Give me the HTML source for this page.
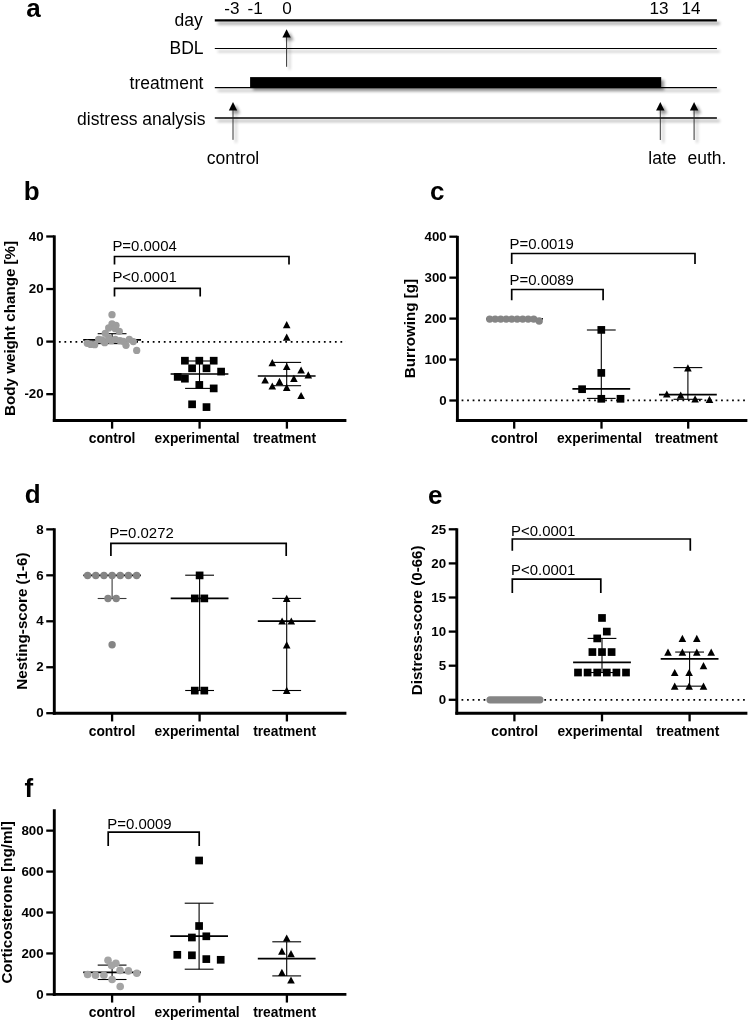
<!DOCTYPE html>
<html><head><meta charset="utf-8"><title>Figure</title>
<style>html,body{margin:0;padding:0;background:#fff;width:750px;height:1022px;overflow:hidden;}svg{display:block;opacity:0.999;}text{font-family:"Liberation Sans",sans-serif;}</style>
</head><body>
<svg width="750" height="1022" viewBox="0 0 750 1022">
<defs><filter id="sh" x="-5%" y="-50%" width="110%" height="250%"><feGaussianBlur in="SourceAlpha" stdDeviation="1.7"/><feOffset dx="2.8" dy="3" result="o"/><feComponentTransfer><feFuncA type="linear" slope="0.42"/></feComponentTransfer><feMerge><feMergeNode/><feMergeNode in="SourceGraphic"/></feMerge></filter></defs>
<rect width="750" height="1022" fill="#fff"/>
<text x="26.30" y="17.20" font-size="26" font-weight="bold">a</text>
<text x="23.70" y="200.00" font-size="26" font-weight="bold">b</text>
<text x="430.00" y="200.00" font-size="26" font-weight="bold">c</text>
<text x="24.80" y="503.30" font-size="26" font-weight="bold">d</text>
<text x="427.90" y="503.60" font-size="26" font-weight="bold">e</text>
<text x="24.50" y="796.60" font-size="26" font-weight="bold">f</text>
<text x="202.80" y="25.50" font-size="17.5" text-anchor="end">day</text>
<text x="203.50" y="53.70" font-size="17.5" text-anchor="end">BDL</text>
<text x="203.50" y="89.10" font-size="17.5" text-anchor="end">treatment</text>
<text x="205.50" y="124.60" font-size="17.5" text-anchor="end">distress analysis</text>
<g filter="url(#sh)">
<line x1="214.80" y1="20.40" x2="716.90" y2="20.40" stroke="#000" stroke-width="2.3"/>
<line x1="214.80" y1="48.50" x2="716.90" y2="48.50" stroke="#000" stroke-width="1.1"/>
<line x1="214.80" y1="87.60" x2="716.90" y2="87.60" stroke="#000" stroke-width="1.1"/>
<line x1="214.80" y1="118.10" x2="716.90" y2="118.10" stroke="#000" stroke-width="1.5"/>
<rect x="250.1" y="77.1" width="411.1" height="11.0" fill="#000"/>
<line x1="286.60" y1="34.20" x2="286.60" y2="66.80" stroke="#222" stroke-width="0.9"/>
<path d="M282.40 37.60L290.80 37.60L286.60 29.20Z" fill="#000"/>
<line x1="233.00" y1="107.00" x2="233.00" y2="139.80" stroke="#222" stroke-width="0.9"/>
<path d="M228.80 110.40L237.20 110.40L233.00 102.00Z" fill="#000"/>
<line x1="660.30" y1="107.00" x2="660.30" y2="140.00" stroke="#222" stroke-width="0.9"/>
<path d="M656.10 110.40L664.50 110.40L660.30 102.00Z" fill="#000"/>
<line x1="694.10" y1="107.00" x2="694.10" y2="140.00" stroke="#222" stroke-width="0.9"/>
<path d="M689.90 110.40L698.30 110.40L694.10 102.00Z" fill="#000"/>
</g>
<text x="231.90" y="13.80" font-size="17.1" text-anchor="middle">-3</text>
<text x="255.20" y="13.80" font-size="17.1" text-anchor="middle">-1</text>
<text x="286.90" y="13.80" font-size="17.1" text-anchor="middle">0</text>
<text x="659.00" y="13.80" font-size="17.1" text-anchor="middle">13</text>
<text x="691.00" y="13.80" font-size="17.1" text-anchor="middle">14</text>
<text x="233.00" y="163.70" font-size="17.5" text-anchor="middle">control</text>
<text x="662.40" y="163.70" font-size="17.5" text-anchor="middle">late</text>
<text x="706.90" y="163.70" font-size="17.5" text-anchor="middle">euth.</text>
<line x1="54.30" y1="235.35" x2="54.30" y2="421.95" stroke="#000" stroke-width="2.9"/>
<line x1="52.85" y1="420.50" x2="346.40" y2="420.50" stroke="#000" stroke-width="2.9"/>
<line x1="46.25" y1="236.48" x2="54.30" y2="236.48" stroke="#000" stroke-width="2.3"/>
<text x="43.65" y="240.68" font-size="13.3" font-weight="bold" text-anchor="end">40</text>
<line x1="46.25" y1="289.04" x2="54.30" y2="289.04" stroke="#000" stroke-width="2.3"/>
<text x="43.65" y="293.24" font-size="13.3" font-weight="bold" text-anchor="end">20</text>
<line x1="46.25" y1="341.60" x2="54.30" y2="341.60" stroke="#000" stroke-width="2.3"/>
<text x="43.65" y="345.80" font-size="13.3" font-weight="bold" text-anchor="end">0</text>
<line x1="46.25" y1="394.16" x2="54.30" y2="394.16" stroke="#000" stroke-width="2.3"/>
<text x="43.65" y="398.36" font-size="13.3" font-weight="bold" text-anchor="end">-20</text>
<line x1="112.10" y1="420.50" x2="112.10" y2="428.65" stroke="#000" stroke-width="2.3"/>
<line x1="199.60" y1="420.50" x2="199.60" y2="428.65" stroke="#000" stroke-width="2.3"/>
<line x1="286.90" y1="420.50" x2="286.90" y2="428.65" stroke="#000" stroke-width="2.3"/>
<text x="112.10" y="443.40" font-size="13.8" font-weight="bold" text-anchor="middle">control</text>
<text x="197.10" y="443.40" font-size="13.8" font-weight="bold" text-anchor="middle">experimental</text>
<text x="284.60" y="443.40" font-size="13.8" font-weight="bold" text-anchor="middle">treatment</text>
<text x="15.10" y="328.40" font-size="15.15" font-weight="bold" text-anchor="middle" transform="rotate(-90 15.10 328.40)">Body weight change [%]</text>
<line x1="58.92" y1="341.80" x2="346.00" y2="341.80" stroke="#000" stroke-width="1.75" stroke-dasharray="1.75 3.7699999999999996"/>
<path d="M114.50 264.50V256.50H289.00V264.50" fill="none" stroke="#000" stroke-width="1.7"/>
<text x="112.40" y="250.60" font-size="14.95">P=0.0004</text>
<path d="M114.50 296.50V288.40H200.20V296.50" fill="none" stroke="#000" stroke-width="1.7"/>
<text x="112.40" y="282.00" font-size="14.95">P&lt;0.0001</text>
<line x1="112.10" y1="333.70" x2="112.10" y2="343.60" stroke="#000" stroke-width="1.1"/>
<line x1="97.70" y1="333.70" x2="126.50" y2="333.70" stroke="#000" stroke-width="1.1"/>
<line x1="97.70" y1="343.60" x2="126.50" y2="343.60" stroke="#000" stroke-width="1.1"/>
<line x1="83.20" y1="339.90" x2="141.00" y2="339.90" stroke="#000" stroke-width="1.7"/>
<circle cx="112.00" cy="314.70" r="3.65" fill="#9d9d9d"/>
<circle cx="112.00" cy="324.00" r="3.65" fill="#9d9d9d"/>
<circle cx="116.00" cy="325.30" r="3.65" fill="#9d9d9d"/>
<circle cx="108.70" cy="328.00" r="3.65" fill="#9d9d9d"/>
<circle cx="115.30" cy="328.70" r="3.65" fill="#9d9d9d"/>
<circle cx="119.30" cy="331.30" r="3.65" fill="#9d9d9d"/>
<circle cx="105.30" cy="333.30" r="3.65" fill="#9d9d9d"/>
<circle cx="98.70" cy="339.30" r="3.65" fill="#9d9d9d"/>
<circle cx="87.30" cy="343.30" r="3.65" fill="#9d9d9d"/>
<circle cx="90.70" cy="344.40" r="3.65" fill="#9d9d9d"/>
<circle cx="94.70" cy="344.70" r="3.65" fill="#9d9d9d"/>
<circle cx="104.70" cy="342.70" r="3.65" fill="#9d9d9d"/>
<circle cx="102.00" cy="340.00" r="3.65" fill="#9d9d9d"/>
<circle cx="111.30" cy="340.70" r="3.65" fill="#9d9d9d"/>
<circle cx="108.70" cy="338.00" r="3.65" fill="#9d9d9d"/>
<circle cx="115.30" cy="339.30" r="3.65" fill="#9d9d9d"/>
<circle cx="120.00" cy="340.70" r="3.65" fill="#9d9d9d"/>
<circle cx="123.30" cy="341.30" r="3.65" fill="#9d9d9d"/>
<circle cx="126.00" cy="345.30" r="3.65" fill="#9d9d9d"/>
<circle cx="129.30" cy="339.30" r="3.65" fill="#9d9d9d"/>
<circle cx="133.30" cy="341.60" r="3.65" fill="#9d9d9d"/>
<circle cx="136.70" cy="350.40" r="3.65" fill="#9d9d9d"/>
<line x1="199.50" y1="361.00" x2="199.50" y2="388.40" stroke="#000" stroke-width="1.1"/>
<line x1="185.10" y1="361.00" x2="213.90" y2="361.00" stroke="#000" stroke-width="1.1"/>
<line x1="185.10" y1="388.40" x2="213.90" y2="388.40" stroke="#000" stroke-width="1.1"/>
<line x1="170.60" y1="374.00" x2="228.40" y2="374.00" stroke="#000" stroke-width="1.7"/>
<rect x="181.05" y="356.85" width="7.7" height="7.7" fill="#000"/>
<rect x="195.45" y="356.85" width="7.7" height="7.7" fill="#000"/>
<rect x="209.85" y="356.85" width="7.7" height="7.7" fill="#000"/>
<rect x="188.25" y="364.45" width="7.7" height="7.7" fill="#000"/>
<rect x="202.65" y="364.45" width="7.7" height="7.7" fill="#000"/>
<rect x="217.25" y="367.75" width="7.7" height="7.7" fill="#000"/>
<rect x="173.85" y="373.05" width="7.7" height="7.7" fill="#000"/>
<rect x="181.05" y="374.85" width="7.7" height="7.7" fill="#000"/>
<rect x="195.45" y="381.05" width="7.7" height="7.7" fill="#000"/>
<rect x="209.85" y="384.55" width="7.7" height="7.7" fill="#000"/>
<rect x="188.25" y="400.45" width="7.7" height="7.7" fill="#000"/>
<rect x="202.65" y="403.25" width="7.7" height="7.7" fill="#000"/>
<line x1="286.70" y1="362.40" x2="286.70" y2="385.70" stroke="#000" stroke-width="1.1"/>
<line x1="272.30" y1="362.40" x2="301.10" y2="362.40" stroke="#000" stroke-width="1.1"/>
<line x1="272.30" y1="385.70" x2="301.10" y2="385.70" stroke="#000" stroke-width="1.1"/>
<line x1="257.80" y1="376.00" x2="315.60" y2="376.00" stroke="#000" stroke-width="1.7"/>
<path d="M282.90 328.30L290.50 328.30L286.70 321.10Z" fill="#000"/>
<path d="M282.90 340.80L290.50 340.80L286.70 333.60Z" fill="#000"/>
<path d="M268.50 366.30L276.10 366.30L272.30 359.10Z" fill="#000"/>
<path d="M282.90 370.10L290.50 370.10L286.70 362.90Z" fill="#000"/>
<path d="M297.30 373.60L304.90 373.60L301.10 366.40Z" fill="#000"/>
<path d="M304.50 378.40L312.10 378.40L308.30 371.20Z" fill="#000"/>
<path d="M290.10 381.90L297.70 381.90L293.90 374.70Z" fill="#000"/>
<path d="M261.30 383.60L268.90 383.60L265.10 376.40Z" fill="#000"/>
<path d="M275.70 384.90L283.30 384.90L279.50 377.70Z" fill="#000"/>
<path d="M268.50 389.60L276.10 389.60L272.30 382.40Z" fill="#000"/>
<path d="M282.90 390.90L290.50 390.90L286.70 383.70Z" fill="#000"/>
<path d="M297.30 399.10L304.90 399.10L301.10 391.90Z" fill="#000"/>
<line x1="457.40" y1="235.85" x2="457.40" y2="421.95" stroke="#000" stroke-width="2.9"/>
<line x1="455.95" y1="420.50" x2="747.40" y2="420.50" stroke="#000" stroke-width="2.9"/>
<line x1="449.35" y1="236.70" x2="457.40" y2="236.70" stroke="#000" stroke-width="2.3"/>
<text x="446.75" y="240.90" font-size="13.3" font-weight="bold" text-anchor="end">400</text>
<line x1="449.35" y1="277.65" x2="457.40" y2="277.65" stroke="#000" stroke-width="2.3"/>
<text x="446.75" y="281.85" font-size="13.3" font-weight="bold" text-anchor="end">300</text>
<line x1="449.35" y1="318.60" x2="457.40" y2="318.60" stroke="#000" stroke-width="2.3"/>
<text x="446.75" y="322.80" font-size="13.3" font-weight="bold" text-anchor="end">200</text>
<line x1="449.35" y1="359.55" x2="457.40" y2="359.55" stroke="#000" stroke-width="2.3"/>
<text x="446.75" y="363.75" font-size="13.3" font-weight="bold" text-anchor="end">100</text>
<line x1="449.35" y1="400.50" x2="457.40" y2="400.50" stroke="#000" stroke-width="2.3"/>
<text x="446.75" y="404.70" font-size="13.3" font-weight="bold" text-anchor="end">0</text>
<line x1="514.20" y1="420.50" x2="514.20" y2="428.65" stroke="#000" stroke-width="2.3"/>
<line x1="601.50" y1="420.50" x2="601.50" y2="428.65" stroke="#000" stroke-width="2.3"/>
<line x1="688.20" y1="420.50" x2="688.20" y2="428.65" stroke="#000" stroke-width="2.3"/>
<text x="514.50" y="443.40" font-size="13.8" font-weight="bold" text-anchor="middle">control</text>
<text x="599.50" y="443.40" font-size="13.8" font-weight="bold" text-anchor="middle">experimental</text>
<text x="686.40" y="443.40" font-size="13.8" font-weight="bold" text-anchor="middle">treatment</text>
<text x="415.00" y="328.50" font-size="15.15" font-weight="bold" text-anchor="middle" transform="rotate(-90 415.00 328.50)">Burrowing [g]</text>
<line x1="461.62" y1="400.30" x2="746.00" y2="400.30" stroke="#000" stroke-width="1.75" stroke-dasharray="1.75 3.7699999999999996"/>
<path d="M511.70 264.10V253.50H695.00V264.10" fill="none" stroke="#000" stroke-width="1.7"/>
<text x="509.50" y="249.00" font-size="14.95">P=0.0019</text>
<path d="M511.70 300.20V289.50H603.10V300.20" fill="none" stroke="#000" stroke-width="1.7"/>
<text x="509.50" y="285.00" font-size="14.95">P=0.0089</text>
<line x1="486.00" y1="318.80" x2="543.00" y2="318.80" stroke="#000" stroke-width="1.7"/>
<circle cx="489.70" cy="319.10" r="3.7" fill="#858585"/>
<circle cx="495.20" cy="319.10" r="3.7" fill="#858585"/>
<circle cx="500.70" cy="319.10" r="3.7" fill="#858585"/>
<circle cx="506.20" cy="319.10" r="3.7" fill="#858585"/>
<circle cx="511.70" cy="319.10" r="3.7" fill="#858585"/>
<circle cx="517.20" cy="319.10" r="3.7" fill="#858585"/>
<circle cx="522.70" cy="319.10" r="3.7" fill="#858585"/>
<circle cx="528.20" cy="319.10" r="3.7" fill="#858585"/>
<circle cx="533.70" cy="319.10" r="3.7" fill="#858585"/>
<circle cx="539.20" cy="321.00" r="3.7" fill="#858585"/>
<line x1="601.30" y1="330.00" x2="601.30" y2="398.40" stroke="#000" stroke-width="1.1"/>
<line x1="586.90" y1="330.00" x2="615.70" y2="330.00" stroke="#000" stroke-width="1.1"/>
<line x1="586.90" y1="398.40" x2="615.70" y2="398.40" stroke="#000" stroke-width="1.1"/>
<line x1="572.40" y1="388.80" x2="630.20" y2="388.80" stroke="#000" stroke-width="1.7"/>
<rect x="597.45" y="326.05" width="7.7" height="7.7" fill="#000"/>
<rect x="597.45" y="369.05" width="7.7" height="7.7" fill="#000"/>
<rect x="578.25" y="385.35" width="7.7" height="7.7" fill="#000"/>
<rect x="597.45" y="394.95" width="7.7" height="7.7" fill="#000"/>
<rect x="616.65" y="394.95" width="7.7" height="7.7" fill="#000"/>
<line x1="687.90" y1="367.60" x2="687.90" y2="399.30" stroke="#000" stroke-width="1.1"/>
<line x1="673.50" y1="367.60" x2="702.30" y2="367.60" stroke="#000" stroke-width="1.1"/>
<line x1="673.50" y1="399.30" x2="702.30" y2="399.30" stroke="#000" stroke-width="1.1"/>
<line x1="659.00" y1="394.60" x2="716.80" y2="394.60" stroke="#000" stroke-width="1.7"/>
<path d="M684.10 371.40L691.70 371.40L687.90 364.20Z" fill="#000"/>
<path d="M663.00 397.60L670.60 397.60L666.80 390.40Z" fill="#000"/>
<path d="M676.90 398.80L684.50 398.80L680.70 391.60Z" fill="#000"/>
<path d="M691.30 402.40L698.90 402.40L695.10 395.20Z" fill="#000"/>
<path d="M705.70 402.90L713.30 402.90L709.50 395.70Z" fill="#000"/>
<line x1="54.30" y1="528.25" x2="54.30" y2="714.75" stroke="#000" stroke-width="2.9"/>
<line x1="52.85" y1="713.30" x2="346.40" y2="713.30" stroke="#000" stroke-width="2.9"/>
<line x1="46.25" y1="529.36" x2="54.30" y2="529.36" stroke="#000" stroke-width="2.3"/>
<text x="43.65" y="533.56" font-size="13.3" font-weight="bold" text-anchor="end">8</text>
<line x1="46.25" y1="575.32" x2="54.30" y2="575.32" stroke="#000" stroke-width="2.3"/>
<text x="43.65" y="579.52" font-size="13.3" font-weight="bold" text-anchor="end">6</text>
<line x1="46.25" y1="621.28" x2="54.30" y2="621.28" stroke="#000" stroke-width="2.3"/>
<text x="43.65" y="625.48" font-size="13.3" font-weight="bold" text-anchor="end">4</text>
<line x1="46.25" y1="667.24" x2="54.30" y2="667.24" stroke="#000" stroke-width="2.3"/>
<text x="43.65" y="671.44" font-size="13.3" font-weight="bold" text-anchor="end">2</text>
<line x1="46.25" y1="713.20" x2="54.30" y2="713.20" stroke="#000" stroke-width="2.3"/>
<text x="43.65" y="717.40" font-size="13.3" font-weight="bold" text-anchor="end">0</text>
<line x1="112.10" y1="713.30" x2="112.10" y2="721.45" stroke="#000" stroke-width="2.3"/>
<line x1="199.60" y1="713.30" x2="199.60" y2="721.45" stroke="#000" stroke-width="2.3"/>
<line x1="286.90" y1="713.30" x2="286.90" y2="721.45" stroke="#000" stroke-width="2.3"/>
<text x="112.10" y="736.20" font-size="13.8" font-weight="bold" text-anchor="middle">control</text>
<text x="197.10" y="736.20" font-size="13.8" font-weight="bold" text-anchor="middle">experimental</text>
<text x="284.60" y="736.20" font-size="13.8" font-weight="bold" text-anchor="middle">treatment</text>
<text x="26.80" y="621.10" font-size="15.15" font-weight="bold" text-anchor="middle" transform="rotate(-90 26.80 621.10)">Nesting-score (1-6)</text>
<path d="M110.90 556.00V543.30H286.20V556.00" fill="none" stroke="#000" stroke-width="1.7"/>
<text x="109.40" y="538.30" font-size="14.95">P=0.0272</text>
<line x1="112.10" y1="575.30" x2="112.10" y2="598.50" stroke="#3a3a3a" stroke-width="1.1"/>
<line x1="97.70" y1="598.50" x2="126.50" y2="598.50" stroke="#3a3a3a" stroke-width="1.1"/>
<line x1="83.30" y1="575.30" x2="140.90" y2="575.30" stroke="#000" stroke-width="1.7"/>
<circle cx="87.60" cy="575.50" r="3.7" fill="#858585"/>
<circle cx="95.77" cy="575.50" r="3.7" fill="#858585"/>
<circle cx="103.94" cy="575.50" r="3.7" fill="#858585"/>
<circle cx="112.11" cy="575.50" r="3.7" fill="#858585"/>
<circle cx="120.28" cy="575.50" r="3.7" fill="#858585"/>
<circle cx="128.45" cy="575.50" r="3.7" fill="#858585"/>
<circle cx="136.62" cy="575.50" r="3.7" fill="#858585"/>
<circle cx="108.00" cy="598.50" r="3.7" fill="#858585"/>
<circle cx="116.20" cy="598.50" r="3.7" fill="#858585"/>
<circle cx="112.10" cy="644.80" r="3.7" fill="#858585"/>
<line x1="199.60" y1="575.20" x2="199.60" y2="690.50" stroke="#000" stroke-width="1.1"/>
<line x1="185.20" y1="575.20" x2="214.00" y2="575.20" stroke="#000" stroke-width="1.1"/>
<line x1="185.20" y1="690.50" x2="214.00" y2="690.50" stroke="#000" stroke-width="1.1"/>
<line x1="170.70" y1="598.40" x2="228.50" y2="598.40" stroke="#000" stroke-width="1.7"/>
<rect x="195.75" y="571.55" width="7.7" height="7.7" fill="#000"/>
<rect x="190.95" y="594.55" width="7.7" height="7.7" fill="#000"/>
<rect x="200.45" y="594.55" width="7.7" height="7.7" fill="#000"/>
<rect x="190.95" y="686.75" width="7.7" height="7.7" fill="#000"/>
<rect x="200.45" y="686.75" width="7.7" height="7.7" fill="#000"/>
<line x1="286.70" y1="598.40" x2="286.70" y2="690.50" stroke="#000" stroke-width="1.1"/>
<line x1="272.30" y1="598.40" x2="301.10" y2="598.40" stroke="#000" stroke-width="1.1"/>
<line x1="272.30" y1="690.50" x2="301.10" y2="690.50" stroke="#000" stroke-width="1.1"/>
<line x1="257.80" y1="621.20" x2="315.60" y2="621.20" stroke="#000" stroke-width="1.7"/>
<path d="M282.90 601.90L290.50 601.90L286.70 594.70Z" fill="#000"/>
<path d="M278.30 624.60L285.90 624.60L282.10 617.40Z" fill="#000"/>
<path d="M287.50 624.60L295.10 624.60L291.30 617.40Z" fill="#000"/>
<path d="M282.90 648.40L290.50 648.40L286.70 641.20Z" fill="#000"/>
<path d="M282.90 694.00L290.50 694.00L286.70 686.80Z" fill="#000"/>
<line x1="456.80" y1="528.25" x2="456.80" y2="714.65" stroke="#000" stroke-width="2.9"/>
<line x1="455.35" y1="713.20" x2="747.40" y2="713.20" stroke="#000" stroke-width="2.9"/>
<line x1="448.75" y1="529.30" x2="456.80" y2="529.30" stroke="#000" stroke-width="2.3"/>
<text x="446.15" y="533.50" font-size="13.3" font-weight="bold" text-anchor="end">25</text>
<line x1="448.75" y1="563.40" x2="456.80" y2="563.40" stroke="#000" stroke-width="2.3"/>
<text x="446.15" y="567.60" font-size="13.3" font-weight="bold" text-anchor="end">20</text>
<line x1="448.75" y1="597.50" x2="456.80" y2="597.50" stroke="#000" stroke-width="2.3"/>
<text x="446.15" y="601.70" font-size="13.3" font-weight="bold" text-anchor="end">15</text>
<line x1="448.75" y1="631.60" x2="456.80" y2="631.60" stroke="#000" stroke-width="2.3"/>
<text x="446.15" y="635.80" font-size="13.3" font-weight="bold" text-anchor="end">10</text>
<line x1="448.75" y1="665.70" x2="456.80" y2="665.70" stroke="#000" stroke-width="2.3"/>
<text x="446.15" y="669.90" font-size="13.3" font-weight="bold" text-anchor="end">5</text>
<line x1="448.75" y1="699.80" x2="456.80" y2="699.80" stroke="#000" stroke-width="2.3"/>
<text x="446.15" y="704.00" font-size="13.3" font-weight="bold" text-anchor="end">0</text>
<line x1="514.40" y1="713.20" x2="514.40" y2="721.35" stroke="#000" stroke-width="2.3"/>
<line x1="602.00" y1="713.20" x2="602.00" y2="721.35" stroke="#000" stroke-width="2.3"/>
<line x1="689.60" y1="713.20" x2="689.60" y2="721.35" stroke="#000" stroke-width="2.3"/>
<text x="514.70" y="736.10" font-size="13.8" font-weight="bold" text-anchor="middle">control</text>
<text x="600.00" y="736.10" font-size="13.8" font-weight="bold" text-anchor="middle">experimental</text>
<text x="687.80" y="736.10" font-size="13.8" font-weight="bold" text-anchor="middle">treatment</text>
<text x="421.80" y="620.30" font-size="15.15" font-weight="bold" text-anchor="middle" transform="rotate(-90 421.80 620.30)">Distress-score (0-66)</text>
<line x1="461.52" y1="699.80" x2="746.00" y2="699.80" stroke="#000" stroke-width="1.75" stroke-dasharray="1.75 3.7699999999999996"/>
<path d="M512.30 550.80V539.00H690.30V550.80" fill="none" stroke="#000" stroke-width="1.7"/>
<text x="511.00" y="535.90" font-size="14.95">P&lt;0.0001</text>
<path d="M512.30 593.00V579.10H600.80V593.00" fill="none" stroke="#000" stroke-width="1.7"/>
<text x="511.00" y="575.00" font-size="14.95">P&lt;0.0001</text>
<rect x="486.4" y="696.2" width="57.1" height="7.2" rx="3.6" fill="#858585"/>
<line x1="602.00" y1="638.42" x2="602.00" y2="672.52" stroke="#000" stroke-width="1.1"/>
<line x1="587.60" y1="638.42" x2="616.40" y2="638.42" stroke="#000" stroke-width="1.1"/>
<line x1="587.60" y1="672.52" x2="616.40" y2="672.52" stroke="#000" stroke-width="1.1"/>
<line x1="573.10" y1="662.29" x2="630.90" y2="662.29" stroke="#000" stroke-width="1.7"/>
<rect x="598.15" y="614.11" width="7.7" height="7.7" fill="#000"/>
<rect x="602.95" y="627.75" width="7.7" height="7.7" fill="#000"/>
<rect x="593.35" y="634.57" width="7.7" height="7.7" fill="#000"/>
<rect x="588.55" y="648.21" width="7.7" height="7.7" fill="#000"/>
<rect x="598.15" y="648.21" width="7.7" height="7.7" fill="#000"/>
<rect x="607.75" y="648.21" width="7.7" height="7.7" fill="#000"/>
<rect x="574.15" y="668.67" width="7.7" height="7.7" fill="#000"/>
<rect x="583.75" y="668.67" width="7.7" height="7.7" fill="#000"/>
<rect x="593.35" y="668.67" width="7.7" height="7.7" fill="#000"/>
<rect x="602.95" y="668.67" width="7.7" height="7.7" fill="#000"/>
<rect x="612.55" y="668.67" width="7.7" height="7.7" fill="#000"/>
<rect x="622.15" y="668.67" width="7.7" height="7.7" fill="#000"/>
<line x1="689.60" y1="652.06" x2="689.60" y2="686.16" stroke="#000" stroke-width="1.1"/>
<line x1="675.20" y1="652.06" x2="704.00" y2="652.06" stroke="#000" stroke-width="1.1"/>
<line x1="675.20" y1="686.16" x2="704.00" y2="686.16" stroke="#000" stroke-width="1.1"/>
<line x1="660.70" y1="658.88" x2="718.50" y2="658.88" stroke="#000" stroke-width="1.7"/>
<path d="M678.60 642.02L686.20 642.02L682.40 634.82Z" fill="#000"/>
<path d="M693.00 642.02L700.60 642.02L696.80 634.82Z" fill="#000"/>
<path d="M664.20 655.66L671.80 655.66L668.00 648.46Z" fill="#000"/>
<path d="M678.60 655.66L686.20 655.66L682.40 648.46Z" fill="#000"/>
<path d="M693.00 655.66L700.60 655.66L696.80 648.46Z" fill="#000"/>
<path d="M707.40 655.66L715.00 655.66L711.20 648.46Z" fill="#000"/>
<path d="M699.70 669.30L707.30 669.30L703.50 662.10Z" fill="#000"/>
<path d="M670.90 676.12L678.50 676.12L674.70 668.92Z" fill="#000"/>
<path d="M685.30 676.12L692.90 676.12L689.10 668.92Z" fill="#000"/>
<path d="M670.90 689.76L678.50 689.76L674.70 682.56Z" fill="#000"/>
<path d="M685.30 689.76L692.90 689.76L689.10 682.56Z" fill="#000"/>
<path d="M699.70 689.76L707.30 689.76L703.50 682.56Z" fill="#000"/>
<line x1="54.30" y1="809.25" x2="54.30" y2="995.85" stroke="#000" stroke-width="2.9"/>
<line x1="52.85" y1="994.40" x2="346.40" y2="994.40" stroke="#000" stroke-width="2.9"/>
<line x1="46.25" y1="830.64" x2="54.30" y2="830.64" stroke="#000" stroke-width="2.3"/>
<text x="43.65" y="834.84" font-size="13.3" font-weight="bold" text-anchor="end">800</text>
<line x1="46.25" y1="871.58" x2="54.30" y2="871.58" stroke="#000" stroke-width="2.3"/>
<text x="43.65" y="875.78" font-size="13.3" font-weight="bold" text-anchor="end">600</text>
<line x1="46.25" y1="912.52" x2="54.30" y2="912.52" stroke="#000" stroke-width="2.3"/>
<text x="43.65" y="916.72" font-size="13.3" font-weight="bold" text-anchor="end">400</text>
<line x1="46.25" y1="953.46" x2="54.30" y2="953.46" stroke="#000" stroke-width="2.3"/>
<text x="43.65" y="957.66" font-size="13.3" font-weight="bold" text-anchor="end">200</text>
<line x1="46.25" y1="994.40" x2="54.30" y2="994.40" stroke="#000" stroke-width="2.3"/>
<text x="43.65" y="998.60" font-size="13.3" font-weight="bold" text-anchor="end">0</text>
<line x1="112.10" y1="994.40" x2="112.10" y2="1002.55" stroke="#000" stroke-width="2.3"/>
<line x1="199.60" y1="994.40" x2="199.60" y2="1002.55" stroke="#000" stroke-width="2.3"/>
<line x1="286.90" y1="994.40" x2="286.90" y2="1002.55" stroke="#000" stroke-width="2.3"/>
<text x="112.10" y="1017.30" font-size="13.8" font-weight="bold" text-anchor="middle">control</text>
<text x="197.10" y="1017.30" font-size="13.8" font-weight="bold" text-anchor="middle">experimental</text>
<text x="284.60" y="1017.30" font-size="13.8" font-weight="bold" text-anchor="middle">treatment</text>
<text x="11.80" y="902.40" font-size="15.15" font-weight="bold" text-anchor="middle" transform="rotate(-90 11.80 902.40)">Corticosterone [ng/ml]</text>
<path d="M108.20 846.00V832.20H199.20V846.00" fill="none" stroke="#000" stroke-width="1.7"/>
<text x="107.30" y="828.80" font-size="14.95">P=0.0009</text>
<line x1="112.10" y1="965.10" x2="112.10" y2="979.50" stroke="#000" stroke-width="1.1"/>
<line x1="97.70" y1="965.10" x2="126.50" y2="965.10" stroke="#000" stroke-width="1.1"/>
<line x1="97.70" y1="979.50" x2="126.50" y2="979.50" stroke="#000" stroke-width="1.1"/>
<line x1="83.20" y1="972.30" x2="141.00" y2="972.30" stroke="#000" stroke-width="1.7"/>
<circle cx="108.00" cy="960.30" r="3.8" fill="#a4a4a4"/>
<circle cx="115.90" cy="963.20" r="3.8" fill="#a4a4a4"/>
<circle cx="111.60" cy="965.60" r="3.8" fill="#a4a4a4"/>
<circle cx="120.00" cy="970.40" r="3.8" fill="#a4a4a4"/>
<circle cx="128.40" cy="970.90" r="3.8" fill="#a4a4a4"/>
<circle cx="136.80" cy="973.30" r="3.8" fill="#a4a4a4"/>
<circle cx="87.60" cy="974.50" r="3.8" fill="#a4a4a4"/>
<circle cx="95.50" cy="975.20" r="3.8" fill="#a4a4a4"/>
<circle cx="103.90" cy="975.20" r="3.8" fill="#a4a4a4"/>
<circle cx="112.10" cy="979.50" r="3.8" fill="#a4a4a4"/>
<circle cx="120.20" cy="986.50" r="3.8" fill="#a4a4a4"/>
<line x1="199.10" y1="903.20" x2="199.10" y2="969.20" stroke="#000" stroke-width="1.1"/>
<line x1="184.70" y1="903.20" x2="213.50" y2="903.20" stroke="#000" stroke-width="1.1"/>
<line x1="184.70" y1="969.20" x2="213.50" y2="969.20" stroke="#000" stroke-width="1.1"/>
<line x1="170.20" y1="936.10" x2="228.00" y2="936.10" stroke="#000" stroke-width="1.7"/>
<rect x="195.25" y="856.65" width="7.7" height="7.7" fill="#000"/>
<rect x="195.25" y="922.15" width="7.7" height="7.7" fill="#000"/>
<rect x="188.05" y="933.65" width="7.7" height="7.7" fill="#000"/>
<rect x="202.45" y="932.45" width="7.7" height="7.7" fill="#000"/>
<rect x="173.45" y="950.95" width="7.7" height="7.7" fill="#000"/>
<rect x="188.05" y="951.45" width="7.7" height="7.7" fill="#000"/>
<rect x="202.45" y="955.25" width="7.7" height="7.7" fill="#000"/>
<rect x="216.85" y="955.95" width="7.7" height="7.7" fill="#000"/>
<line x1="286.70" y1="941.80" x2="286.70" y2="975.90" stroke="#000" stroke-width="1.1"/>
<line x1="272.30" y1="941.80" x2="301.10" y2="941.80" stroke="#000" stroke-width="1.1"/>
<line x1="272.30" y1="975.90" x2="301.10" y2="975.90" stroke="#000" stroke-width="1.1"/>
<line x1="257.80" y1="958.60" x2="315.60" y2="958.60" stroke="#000" stroke-width="1.7"/>
<path d="M282.90 941.60L290.50 941.60L286.70 934.40Z" fill="#000"/>
<path d="M278.10 954.80L285.70 954.80L281.90 947.60Z" fill="#000"/>
<path d="M287.20 957.20L294.80 957.20L291.00 950.00Z" fill="#000"/>
<path d="M278.10 975.90L285.70 975.90L281.90 968.70Z" fill="#000"/>
<path d="M287.20 983.60L294.80 983.60L291.00 976.40Z" fill="#000"/>
</svg></body></html>
